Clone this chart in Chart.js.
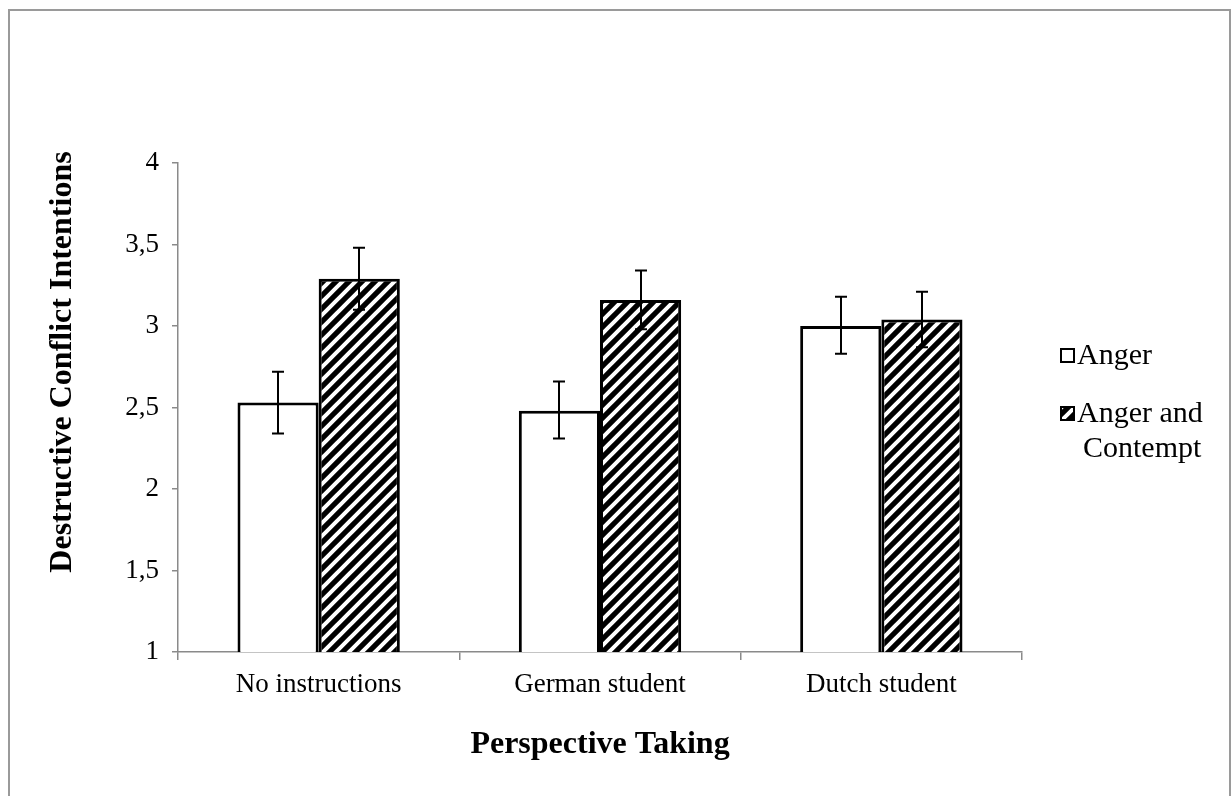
<html>
 <head>
   <meta charset="utf-8" />
   <title>Destructive Conflict Intentions</title>
   <style>
     body { margin: 0; background: #fff; }
     #wrap { position: relative; width: 1231px; height: 796px; overflow: hidden; }
     #frame { position: absolute; left: 8px; top: 9px; width: 1223px; height: 820px;
              border: 2px solid #9a9a9a; box-sizing: border-box; pointer-events: none; }
   </style>
 </head>

 <body>
<div id="wrap">
  <canvas id="ex_chart"></canvas>
  <div id="frame"></div>
</div>

<script src="https://cdn.jsdelivr.net/npm/chart.js"></script>
<script>

// data
categories = ["No instructions", "German student", "Dutch student"];
seriesNames = ["Anger", "Anger and Contempt"];
legendLines = [["Anger"], ["Anger and", "Contempt"]];
angerValues = [2.53, 2.48, 3.00];
contemptValues = [3.29, 3.16, 3.04];
angerLow = [2.34, 2.31, 2.83];
angerHigh = [2.72, 2.66, 3.18];
contemptLow = [3.10, 2.98, 2.87];
contemptHigh = [3.48, 3.34, 3.21];
yTicks = [1, 1.5, 2, 2.5, 3, 3.5, 4];
yTitle = "Destructive Conflict Intentions";
xTitle = "Perspective Taking";

const serif = "'Liberation Serif', 'Times New Roman', serif";

// diagonal hatch, black with white stripes
function makeHatch() {
  var s = 13;
  var c = document.createElement('canvas');
  c.width = s; c.height = s;
  var g = c.getContext('2d');
  g.fillStyle = '#000';
  g.fillRect(0, 0, s, s);
  g.strokeStyle = '#fff';
  g.lineWidth = 4;
  g.beginPath();
  g.moveTo(-2, 2); g.lineTo(2, -2);
  g.moveTo(-2, s + 2); g.lineTo(s + 2, -2);
  g.moveTo(s - 2, s + 2); g.lineTo(s + 2, s - 2);
  g.stroke();
  return g.createPattern(c, 'repeat');
}
const hatch = makeHatch();

var errLow = [angerLow, contemptLow];
var errHigh = [angerHigh, contemptHigh];

const errorBars = {
  id: 'errorBars',
  afterDatasetsDraw(chart) {
    var ctx = chart.ctx;
    var y = chart.scales.y;
    ctx.save();
    ctx.strokeStyle = '#000';
    ctx.lineWidth = 2;
    chart.data.datasets.forEach(function (ds, di) {
      chart.getDatasetMeta(di).data.forEach(function (bar, i) {
        var x = Math.round(bar.x);
        var top = y.getPixelForValue(errHigh[di][i]);
        var bot = y.getPixelForValue(errLow[di][i]);
        ctx.beginPath();
        ctx.moveTo(x, top); ctx.lineTo(x, bot);
        ctx.moveTo(x - 6, top); ctx.lineTo(x + 6, top);
        ctx.moveTo(x - 6, bot); ctx.lineTo(x + 6, bot);
        ctx.stroke();
      });
    });
    ctx.restore();
  }
};

// legend on the right and the y title (sits above the middle of the axis)
const sideText = {
  id: 'sideText',
  afterDraw(chart) {
    var ctx = chart.ctx;
    var x0 = 1061, rows = [364, 422];
    ctx.save();
    ctx.font = '30px ' + serif;
    ctx.textBaseline = 'alphabetic';
    chart.data.datasets.forEach(function (ds, di) {
      var b = rows[di];
      ctx.fillStyle = ds.backgroundColor;
      ctx.fillRect(x0, b - 15, 13, 13);
      ctx.strokeStyle = '#000';
      ctx.lineWidth = 2;
      ctx.strokeRect(x0, b - 15, 13, 13);
      ctx.fillStyle = '#000';
      legendLines[di].forEach(function (t, li) {
        ctx.fillText(t, li === 0 ? x0 + 16 : x0 + 22, b + li * 35);
      });
    });

    ctx.translate(63, 362);
    ctx.rotate(-Math.PI / 2);
    ctx.font = 'bold 32px ' + serif;
    ctx.textAlign = 'center';
    ctx.textBaseline = 'middle';
    ctx.fillStyle = '#000';
    ctx.fillText(yTitle, 0, 0);
    ctx.restore();
  }
};

var ctx = document.getElementById('ex_chart');
var data = {
    labels: categories,
    datasets: [{
        label: seriesNames[0],
        data: angerValues,
        backgroundColor: '#fff',
        borderColor: '#000',
        borderWidth: 3,
        borderSkipped: false
    }, {
        label: seriesNames[1],
        data: contemptValues,
        backgroundColor: hatch,
        borderColor: '#000',
        borderWidth: 3,
        borderSkipped: false
    }]
};

var options = {
    responsive: true,
    maintainAspectRatio: false,
    animation: false,
    layout: { padding: { top: 163, right: 209, left: 0, bottom: 0 } },
    plugins: { legend: { display: false }, tooltip: { enabled: false } },
    datasets: { bar: { categoryPercentage: 0.577, barPercentage: 1 } },
    scales: {
      x: {
        afterFit: function (s) { s.height = 144; },
        grid: { offset: true, drawOnChartArea: false, tickLength: 8, color: '#8a8a8a', lineWidth: 1.5 },
        border: { color: '#8a8a8a', width: 1.5 },
        ticks: { color: '#000', padding: 9, font: { family: serif, size: 27 } },
        title: { display: true, text: xTitle, color: '#000',
                 font: { family: serif, size: 32, weight: 'bold' }, padding: { top: 0, bottom: 32 } }
      },
      y: {
        min: 1, max: 4,
        afterFit: function (s) { s.width = 178; },
        afterBuildTicks: function (s) { s.ticks = yTicks.map(function (v) { return { value: v }; }); },
        grid: { drawOnChartArea: false, tickLength: 6, color: '#8a8a8a', lineWidth: 1.5 },
        border: { color: '#8a8a8a', width: 1.5 },
        ticks: { color: '#000', padding: 13, font: { family: serif, size: 27 },
                 callback: function (v) { return String(v).replace('.', ','); } }
      }
    }
};

var ex_chart = new Chart(ctx, {
    type: 'bar',
    data: data,
    options: options,
    plugins: [errorBars, sideText]
});

</script>
</body>
</html>
